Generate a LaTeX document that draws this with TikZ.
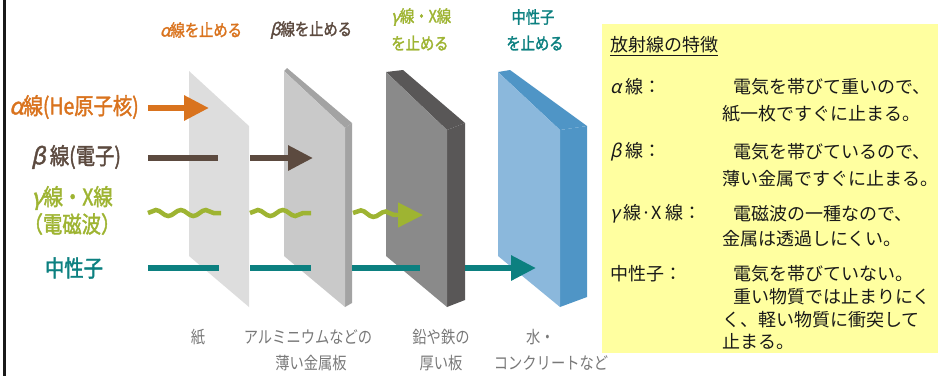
\documentclass[tikz,border=0pt]{standalone}
\usepackage{fontspec}
\setmainfont{Noto Sans CJK JP}
\newfontfamily\narrowjp{Noto Sans CJK JP}[FakeStretch=0.84]
\newfontfamily\narrowjpm{Noto Sans CJK JP}[FakeStretch=0.84, FakeBold=1.6]
\newfontfamily\slantgk{Noto Sans CJK JP}[FakeSlant=0.22]
\newfontfamily\slantgkm{Noto Sans CJK JP}[FakeSlant=0.22, FakeBold=1.6]
\usetikzlibrary{arrows.meta,decorations.pathmorphing}

% Greek letters: slanted sans, regular or medium weight
\newcommand\gk[1]{{\slantgk #1}}
\newcommand\gkm[1]{{\slantgkm #1}}

% ray colours
\definecolor{alphaC}{RGB}{217,115,30}
\definecolor{betaC}{RGB}{92,74,63}
\definecolor{gammaC}{RGB}{158,180,50}
\definecolor{neutC}{RGB}{12,128,128}
\definecolor{capC}{RGB}{120,120,120}
% shields
\definecolor{paperF}{RGB}{221,221,221}
\definecolor{aluF}{RGB}{201,201,201}
\definecolor{aluS}{RGB}{163,163,163}
\definecolor{leadF}{RGB}{138,138,138}
\definecolor{leadS}{RGB}{89,87,87}
\definecolor{waterF}{RGB}{139,184,220}
\definecolor{waterS}{RGB}{79,149,198}
% note box
\definecolor{noteC}{RGB}{255,255,160}
\definecolor{noteT}{RGB}{25,25,25}

\tikzset{
  raylbl/.style={inner sep=0pt, font=\narrowjpm\fontsize{23}{25}\selectfont},
  toplbl/.style={inner sep=0pt, font=\narrowjpm\fontsize{17}{19}\selectfont},
  caplbl/.style={inner sep=0pt, text=capC, font=\narrowjp\fontsize{17}{19}\selectfont},
  notelbl/.style={inner sep=0pt, anchor=west, text=noteT, font=\fontsize{18}{20}\selectfont},
  ray/.style={line width=6pt},
  wave/.style={line width=4.5pt, decorate,
    decoration={snake, amplitude=3pt, segment length=25pt}},
  head/.style={-{Triangle[length=25pt,width=24pt]}}
}

\begin{document}
\begin{tikzpicture}[x=1pt,y=-1pt]
\useasboundingbox (0,0) rectangle (941,376);

% left border rule
\fill[black!90] (3,0) rectangle (6,376);

% --- shields ---
% paper
\fill[paperF] (189,71) -- (249,126) -- (249,307) -- (189,256) -- cycle;
% thin metal plate
\fill[aluS] (284,71) -- (287,68) -- (352,123) -- (345,128) -- cycle;
\fill[aluS] (345,128) -- (352,123) -- (352,303) -- (345,307) -- cycle;
\fill[aluF] (284,71) -- (345,128) -- (345,307) -- (284,256) -- cycle;
% thick lead/iron plate
\fill[leadS] (386,72) -- (403,70) -- (465,123) -- (447,130) -- cycle;
\fill[leadS] (447,130) -- (465,123) -- (465,300) -- (447,307) -- cycle;
\fill[leadF] (386,72) -- (447,130) -- (447,307) -- (386,256) -- cycle;
% water / concrete block
\fill[waterS] (498,72) -- (510,70) -- (587,126) -- (560,130) -- cycle;
\fill[waterS] (560,130) -- (587,126) -- (587,297) -- (560,307) -- cycle;
\fill[waterF] (498,72) -- (560,130) -- (560,307) -- (498,256) -- cycle;

% --- ray path points ---
\coordinate (a0) at (148,108); \coordinate (a1) at (209,108);
\coordinate (b0) at (148,158); \coordinate (b1) at (218,158);
\coordinate (b2) at (250,158); \coordinate (b3) at (313,158);
\coordinate (g0) at (148,213); \coordinate (g1) at (221,213);
\coordinate (g2) at (250,213); \coordinate (g3) at (311,213);
\coordinate (g4) at (353,213); \coordinate (g5) at (397,215);
\coordinate (g6) at (423,215);
\coordinate (n0) at (148,268); \coordinate (n1) at (219,268);
\coordinate (n2) at (250,268); \coordinate (n3) at (311,268);
\coordinate (n4) at (352,268); \coordinate (n5) at (420,268);
\coordinate (n6) at (465,268); \coordinate (n7) at (536,268);

% alpha
\draw[ray, head, alphaC] (a0) -- (a1);
% beta
\draw[ray, betaC] (b0) -- (b1);
\draw[ray, head, betaC] (b2) -- (b3);
% gamma / X
\draw[wave, gammaC] (g0) -- (g1);
\draw[wave, gammaC] (g2) -- (g3);
\draw[wave, gammaC] (g4) -- (g5);
\draw[line width=4.5pt, head, gammaC] (g5) -- (g6);
% neutron
\draw[ray, neutC] (n0) -- (n1);
\draw[ray, neutC] (n2) -- (n3);
\draw[ray, neutC] (n4) -- (n5);
\draw[ray, head, neutC] (n6) -- (n7);

% --- ray names ---
\node[raylbl, text=alphaC] (lalpha) at (74,107) {\gkm{α}線(He原子核)};
\node[raylbl, text=betaC] (lbeta) at (76,157) {\gkm{β} 線(電子)};
\node[raylbl, text=gammaC] (lgamma) at (72,198) {\gkm{γ}線・X線};
\node[raylbl, text=gammaC] (lgamma2) at (72,224) {（電磁波）};
\node[raylbl, text=neutC] (lneut) at (74,268) {中性子};

% --- what each shield stops ---
\node[toplbl, text=alphaC] (salpha) at (201,30) {\gkm{α}線を止める};
\node[toplbl, text=betaC] (sbeta) at (311,30) {\gkm{β}線を止める};
\node[toplbl, text=gammaC] (sgamma) at (421,17) {\gkm{γ}線・X線};
\node[toplbl, text=gammaC] (sgamma2) at (420,43) {を止める};
\node[toplbl, text=neutC] (sneut) at (533,17) {中性子};
\node[toplbl, text=neutC] (sneut2) at (535,43) {を止める};

% --- shield materials ---
\node[caplbl] (cpaper) at (198,337) {紙};
\node[caplbl] (calu) at (308,337) {アルミニウムなどの};
\node[caplbl] (calu2) at (311,363) {薄い金属板};
\node[caplbl] (clead) at (441,337) {鉛や鉄の};
\node[caplbl] (clead2) at (441,363) {厚い板};
\node[caplbl, anchor=west] (cwater) at (526,337) {水・};
\node[caplbl] (cwater2) at (551,363) {コンクリートなど};

% --- characteristics box ---
\node[fill=noteC, inner sep=0pt, minimum width=336pt, minimum height=329pt,
      anchor=north west] (note) at (602,24) {};
\node[notelbl] (ntitle) at (610,46) {\underline{放射線の特徴}};

\node[notelbl] (nalpha) at (610,87) {\gk{α} 線：};
\node[notelbl] (nalpha1) at (733,87) {電気を帯びて重いので、};
\node[notelbl] (nalpha2) at (722,114) {紙一枚ですぐに止まる。};

\node[notelbl] (nbeta) at (610,152) {\gk{β} 線：};
\node[notelbl] (nbeta1) at (733,152) {電気を帯びているので、};
\node[notelbl] (nbeta2) at (722,179) {薄い金属ですぐに止まる。};

\node[notelbl] (ngamma) at (610,214) {\gk{γ} 線·X 線：};
\node[notelbl] (ngamma1) at (733,214) {電磁波の一種なので、};
\node[notelbl] (ngamma2) at (722,239) {金属は透過しにくい。};

\node[notelbl] (nneut) at (610,274) {中性子：};
\node[notelbl] (nneut1) at (733,274) {電気を帯びていない。};
\node[notelbl] (nneut2) at (733,297) {重い物質では止まりにく};
\node[notelbl] (nneut3) at (722,320) {く、軽い物質に衝突して};
\node[notelbl] (nneut4) at (722,342) {止まる。};
\end{tikzpicture}
\end{document}
